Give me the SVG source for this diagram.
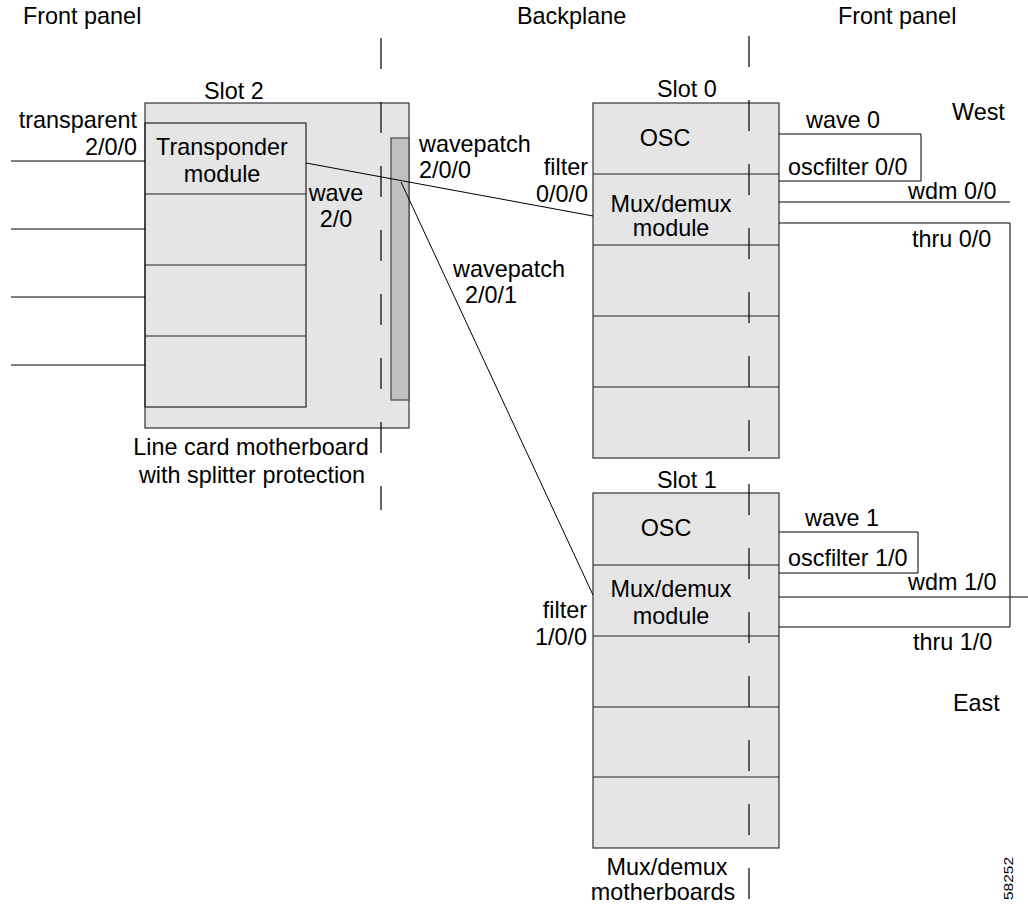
<svg xmlns="http://www.w3.org/2000/svg" width="1028" height="908" viewBox="0 0 1028 908">
<style>
text{font-family:"Liberation Sans",Arial,Helvetica,sans-serif;font-size:23.4px;fill:#000}
.box{fill:#e5e5e5;stroke:#333;stroke-width:1.2}
.row{stroke:#222;stroke-width:1.2;fill:none}
.bar{fill:#c0c0c0;stroke:#444;stroke-width:1.2}
.ln{stroke:#000;stroke-width:1;fill:none}
.dash{stroke:#000;stroke-width:1.2;fill:none;stroke-dasharray:31 33}
.e{text-anchor:end}
.m{text-anchor:middle}
</style>
<rect width="1028" height="908" fill="#fff"/>
<g id="headers">
<text x="23" y="23.5">Front panel</text>
<text x="517" y="23.5">Backplane</text>
<text x="838" y="23.5">Front panel</text>
<text x="952" y="120">West</text>
<text x="953" y="711">East</text>
</g>
<g id="slot2">
<text x="204" y="99">Slot 2</text>
<rect class="box" x="145" y="103" width="264" height="325"/>
<text class="m" x="251" y="455">Line card motherboard</text>
<text class="m" x="252" y="483">with splitter protection</text>
</g>
<g id="transponder">
<rect class="row" x="145" y="123" width="161" height="284"/>
<line class="row" x1="145" y1="194" x2="306" y2="194"/>
<line class="row" x1="145" y1="265" x2="306" y2="265"/>
<line class="row" x1="145" y1="336" x2="306" y2="336"/>
<text class="m" x="222" y="155">Transponder</text>
<text class="m" x="222" y="182">module</text>
<text class="e" x="137" y="128">transparent</text>
<text class="e" x="137" y="155">2/0/0</text>
<text class="m" x="336" y="201">wave</text>
<text class="m" x="336" y="227">2/0</text>
</g>
<g id="wavepatch">
<rect class="bar" x="391" y="138" width="18" height="262"/>
<text x="419" y="152">wavepatch</text>
<text x="419" y="178">2/0/0</text>
<text class="m" x="509" y="277">wavepatch</text>
<text class="m" x="491" y="303">2/0/1</text>
</g>
<g id="slot0">
<text x="657" y="97">Slot 0</text>
<rect class="box" x="593" y="103" width="186" height="355"/>
<line class="row" x1="593" y1="174" x2="779" y2="174"/>
<line class="row" x1="593" y1="245" x2="779" y2="245"/>
<line class="row" x1="593" y1="316" x2="779" y2="316"/>
<line class="row" x1="593" y1="387" x2="779" y2="387"/>
<text class="m" x="665" y="146">OSC</text>
<text class="m" x="671" y="211.5">Mux/demux</text>
<text class="m" x="671" y="236">module</text>
<text class="e" x="588" y="175">filter</text>
<text class="e" x="588" y="201.5">0/0/0</text>
</g>
<g id="slot1">
<text x="657" y="488">Slot 1</text>
<rect class="box" x="593" y="493" width="186" height="355"/>
<line class="row" x1="593" y1="565" x2="779" y2="565"/>
<line class="row" x1="593" y1="636" x2="779" y2="636"/>
<line class="row" x1="593" y1="707" x2="779" y2="707"/>
<line class="row" x1="593" y1="777" x2="779" y2="777"/>
<text class="m" x="666" y="536">OSC</text>
<text class="m" x="671" y="597">Mux/demux</text>
<text class="m" x="671" y="624">module</text>
<text class="e" x="587" y="618">filter</text>
<text class="e" x="587" y="645">1/0/0</text>
<text class="m" x="667" y="875">Mux/demux</text>
<text class="m" x="663" y="900">motherboards</text>
</g>
<g id="planes">
<line class="dash" x1="381" y1="38" x2="381" y2="510"/>
<line class="dash" x1="749" y1="36" x2="749" y2="900"/>
</g>
<g id="connectors">
<line class="ln" x1="11" y1="161" x2="145" y2="161"/>
<line class="ln" x1="11" y1="229" x2="145" y2="229"/>
<line class="ln" x1="11" y1="297" x2="145" y2="297"/>
<line class="ln" x1="11" y1="365" x2="145" y2="365"/>
<line class="ln" x1="306" y1="163" x2="593" y2="216"/>
<line class="ln" x1="401" y1="182" x2="593" y2="595"/>
<path class="ln" d="M779 134H921V181H779"/>
<line class="ln" x1="779" y1="202" x2="1010" y2="202"/>
<path class="ln" d="M779 223H1010V627H779"/>
<path class="ln" d="M779 532H918V573H779"/>
<line class="ln" x1="779" y1="597" x2="1028" y2="597"/>
</g>
<g id="port-labels">
<text x="806" y="128">wave 0</text>
<text x="788" y="175">oscfilter 0/0</text>
<text x="908" y="199">wdm 0/0</text>
<text x="912" y="247">thru 0/0</text>
<text x="805" y="526">wave 1</text>
<text x="788" y="566">oscfilter 1/0</text>
<text x="908" y="590">wdm 1/0</text>
<text x="913" y="650">thru 1/0</text>
</g>
<text transform="translate(1013,900) rotate(-90)" style="font-size:12px" textLength="43" lengthAdjust="spacingAndGlyphs">58252</text>
</svg>
